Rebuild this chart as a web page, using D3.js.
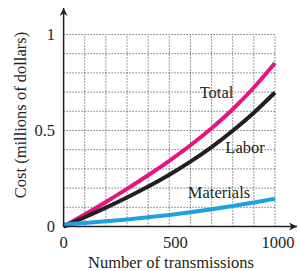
<!DOCTYPE html>
<html><head><meta charset="utf-8">
<script src="https://cdn.jsdelivr.net/npm/d3@7"></script>
<style>body{margin:0;background:#fff}svg{display:block}</style>
</head><body>
<script>
const transmissions = [0,100,200,300,400,500,600,700,800,900,1000];
const total     = [0,0.063,0.128,0.196,0.267,0.342,0.423,0.512,0.611,0.724,0.852];
const labor     = [0,0.048,0.098,0.151,0.208,0.270,0.338,0.414,0.499,0.593,0.698];
const materials = [0.01,0.018,0.027,0.037,0.048,0.060,0.074,0.090,0.107,0.125,0.145];
const xTicks = [0,500,1000];
const yTicks = [0,0.5,1];
const yTickLabels = ["0","0.5","1"];
const seriesNames = ["Total","Labor","Materials"];
const seriesColors = ["#e6157f","#231f20","#1aa3e0"];

const W=298,H=271;
const svg=d3.select("body").append("svg").attr("width",W).attr("height",H);
const x=d3.scaleLinear().domain([0,1000]).range([63.6,275]);
const y=d3.scaleLinear().domain([0,1]).range([226.5,34.5]);
const font="'Liberation Serif','Times New Roman',serif";
const txt="#231f20";

// grid
const g=svg.append("g").attr("stroke","#333").attr("stroke-width",1).attr("stroke-dasharray","1,2");
d3.range(100,1001,100).forEach(v=>g.append("line").attr("x1",x(v)).attr("x2",x(v)).attr("y1",y(0)).attr("y2",y(1)));
d3.range(1,11).forEach(i=>{const v=i/10;g.append("line").attr("x1",x(0)).attr("x2",x(1000)).attr("y1",y(v)).attr("y2",y(v));});

// lines
const line=d3.line().x((d,i)=>x(transmissions[i])).y(d=>y(d)).curve(d3.curveMonotoneX);
[total,labor,materials].forEach((s,i)=>{
  svg.append("path").attr("d",line(s)).attr("fill","none").attr("stroke",seriesColors[i]).attr("stroke-width",4).attr("stroke-linecap","butt");
});

// axes with arrows
svg.append("defs").append("marker").attr("id","arr").attr("viewBox","0 0 10 10").attr("refX",10).attr("refY",5)
  .attr("markerWidth",8).attr("markerHeight",8).attr("markerUnits","userSpaceOnUse").attr("orient","auto")
  .append("path").attr("d","M0,0 L10,5 L0,10 L3,5 Z").attr("fill",txt);
svg.append("line").attr("x1",x(0)).attr("x2",x(0)).attr("y1",y(0)+0.5).attr("y2",8).attr("stroke",txt).attr("stroke-width",1.5).attr("marker-end","url(#arr)");
svg.append("line").attr("x1",x(0)-0.7).attr("x2",297).attr("y1",y(0)).attr("y2",y(0)).attr("stroke",txt).attr("stroke-width",1.5).attr("marker-end","url(#arr)");

// tick labels
xTicks.forEach(v=>svg.append("text").attr("x",x(v)+(v===1000?3:v===500?6:0)).attr("y",248).attr("text-anchor","middle")
  .attr("font-family",font).attr("font-size",16.5).attr("fill",txt).text(v));
yTicks.forEach((v,i)=>svg.append("text").attr("x",55).attr("y",y(v)+5.5).attr("text-anchor","end")
  .attr("font-family",font).attr("font-size",16.5).attr("fill",txt).text(yTickLabels[i]));

// axis titles
svg.append("text").attr("x",171).attr("y",268).attr("text-anchor","middle").attr("font-family",font).attr("font-size",16.5).attr("fill",txt).text("Number of transmissions");
svg.append("text").attr("transform","translate(26,115) rotate(-90)").attr("text-anchor","middle").attr("font-family",font).attr("font-size",16.5).attr("fill",txt).text("Cost (millions of dollars)");

// series labels
const labelPos=[[216.5,98],[245,153],[219,198]];
seriesNames.forEach((n,i)=>svg.append("text").attr("x",labelPos[i][0]).attr("y",labelPos[i][1]).attr("text-anchor","middle")
  .attr("font-family",font).attr("font-size",16.5).attr("fill",txt).text(n));
</script>
</body></html>
